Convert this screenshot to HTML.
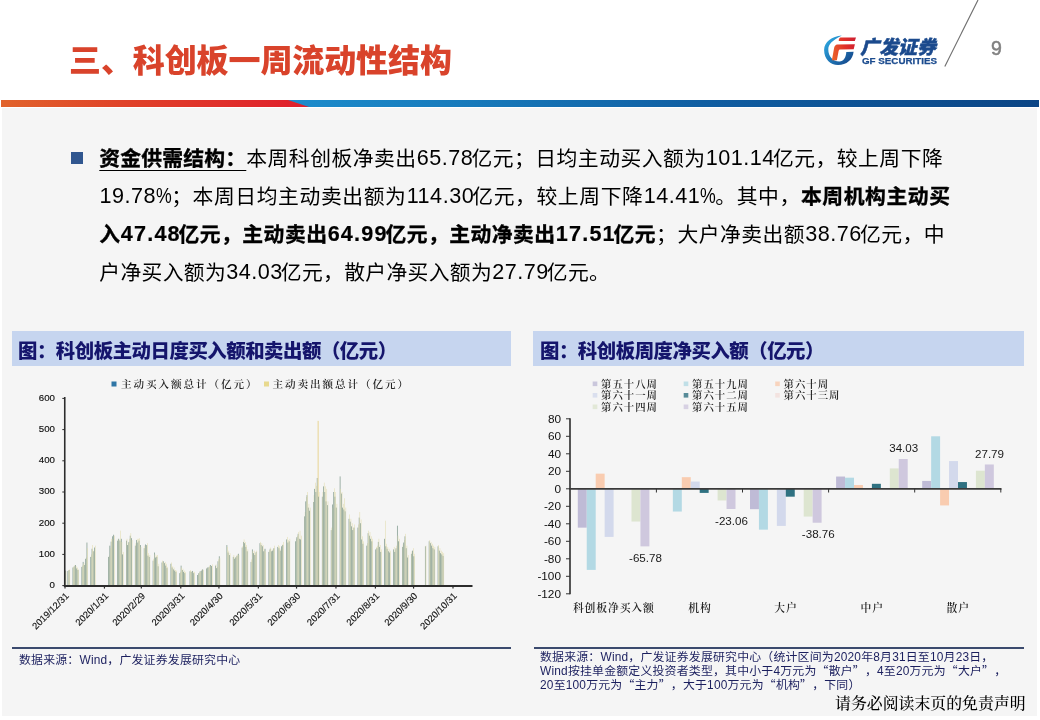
<!DOCTYPE html>
<html lang="zh-CN">
<head>
<meta charset="utf-8">
<title>三、科创板一周流动性结构</title>
<style>
html,body{margin:0;padding:0;}
body{width:1040px;height:720px;position:relative;overflow:hidden;background:#fff;
  font-family:"Liberation Sans","Noto Sans CJK SC",sans-serif;color:#111;}
.abs{position:absolute;}
#graybg{left:2px;top:108px;width:1035px;height:608px;background:#f5f5f5;}
#title{left:69px;top:37px;font-size:32px;line-height:48px;font-weight:900;color:#d9432b;white-space:nowrap;letter-spacing:-0.1px;}
#bar{left:0;top:100px;width:1039px;height:7px;}
#pageno{left:991px;top:36px;font-size:19.5px;line-height:24px;color:#808080;font-weight:normal;-webkit-text-stroke:0.5px #808080;}
.para{left:99.3px;font-size:20.8px;line-height:30px;white-space:nowrap;color:#000;letter-spacing:-0.8px;}
.para b{font-weight:bold;color:#000;-webkit-text-stroke:0.35px #000;}
.para .n{font-size:21.6px;padding:0 0.3px 0 0.2px;letter-spacing:0.5px;position:relative;top:-0.3px;margin-right:-2.2px;}
.para b .n{letter-spacing:1.2px;margin-right:-2.6px;-webkit-text-stroke:0.2px #000;}
.para .n.p{margin-right:-0.5px;}
.para .pc{display:inline-block;transform:scaleX(0.82);transform-origin:left center;margin-right:-4.4px;}
#bullet{left:71px;top:152px;width:12px;height:12px;background:#30568f;}
.ctitle{top:331px;height:35px;background:#c6d5ef;}
.ctitle span{position:absolute;top:6.8px;font-size:19.4px;line-height:27px;font-weight:900;color:#15156c;white-space:nowrap;letter-spacing:-0.46px;}
.srcline{height:2px;background:#3b4a6e;}
.src{font-size:11.9px;line-height:13.9px;height:13.9px;color:#1b1f5e;white-space:nowrap;text-spacing-trim:space-all;letter-spacing:0.2px;}
.src q{font-family:"Noto Sans CJK SC",sans-serif;quotes:none;line-height:1;}
.src q:before,.src q:after{content:none;}
#disc{left:835px;top:693px;font-family:"Liberation Serif","Noto Serif CJK SC",serif;font-size:15.9px;line-height:22px;color:#000;font-weight:500;white-space:nowrap;}
svg text{font-family:"Liberation Sans","Noto Sans CJK SC",sans-serif;}
svg .ax{font-size:9.45px;fill:#111;stroke:#111;stroke-width:0.15px;}
svg .ax2{font-size:11.8px;fill:#111;}
svg .dl{font-size:11.6px;fill:#1a1a1a;}
svg .kai{font-family:"Liberation Serif","Noto Serif CJK SC",serif;fill:#222;font-weight:600;}
svg .lg1{font-size:10.6px;letter-spacing:1.9px;}
svg .lg2{font-size:10.4px;letter-spacing:1.0px;}
svg .cat{font-size:10.8px;letter-spacing:0.9px;}
</style>
</head>
<body>
<div id="graybg" class="abs"></div>

<!-- header -->
<div id="title" class="abs">三、科创板一周流动性结构</div>
<svg id="bar" class="abs" width="1039" height="7" viewBox="0 0 1039 7">
  <defs>
    <linearGradient id="gr" x1="0" x2="1" y1="0" y2="0">
      <stop offset="0" stop-color="#e1632b"/><stop offset="0.4" stop-color="#e04229"/><stop offset="1" stop-color="#e01f2c"/>
    </linearGradient>
    <linearGradient id="gb" x1="0" x2="1" y1="0" y2="0">
      <stop offset="0" stop-color="#1c8ccc"/><stop offset="0.25" stop-color="#1779ba"/><stop offset="0.55" stop-color="#105ea2"/><stop offset="1" stop-color="#0b4585"/>
    </linearGradient>
  </defs>
  <rect x="288" y="0" width="751" height="7" fill="url(#gb)"/>
  <polygon points="1,0 288,0 309,7 1,7" fill="url(#gr)"/>
</svg>

<!-- logo -->
<svg class="abs" style="left:815px;top:0;" width="225" height="80" viewBox="815 0 225 80">
  <defs>
    <linearGradient id="lgb" gradientUnits="userSpaceOnUse" x1="826" x2="850" y1="40" y2="62">
      <stop offset="0" stop-color="#2ea6de"/><stop offset="0.5" stop-color="#1f78b8"/><stop offset="1" stop-color="#164b8e"/>
    </linearGradient>
    <linearGradient id="lgr" gradientUnits="userSpaceOnUse" x1="832" x2="856" y1="50" y2="44">
      <stop offset="0" stop-color="#ea5f2a"/><stop offset="0.55" stop-color="#e0302a"/><stop offset="1" stop-color="#cf1f30"/>
    </linearGradient>
  </defs>
  <!-- G crescent -->
  <path d="M841.9 35.6 C832 36.5 824.1 42 824.1 50 C824.1 59 830.5 65 838 65 C846.5 65 853 59.5 853.6 51.7 L846.3 51.9 C846 57.5 843.5 61.3 839.5 61.5 C833 61.7 828.3 56.5 828.3 49.5 C828.3 44.2 832.3 40.6 841.9 35.6 Z" fill="url(#lgb)"/>
  <!-- F -->
  <path d="M840.4 37.6 L856 37.6 L854.8 41.1 L838.8 41.1 C838.5 39.5 839.2 38.2 840.4 37.6 Z" fill="url(#lgr)"/>
  <path d="M837.3 44.6 L854.9 44.3 L853.7 49.2 L840.2 49.4 C839.2 49.4 838.8 50 838.6 51 L836.9 60.2 L831.9 60.2 L834 48.4 C834.4 46.2 835.5 44.8 837.3 44.6 Z" fill="url(#lgr)"/>
  <text x="860.3" y="54" font-size="18.9" font-weight="900" font-style="italic" fill="#1b4a8d" stroke="#1b4a8d" stroke-width="0.45" style="font-family:'Liberation Sans','Noto Sans CJK SC',sans-serif;">广发证券</text>
  <text x="862" y="64.4" font-size="8.8" font-weight="bold" fill="#1c4c8f" stroke="#1c4c8f" stroke-width="0.25" textLength="75" lengthAdjust="spacingAndGlyphs">GF SECURITIES</text>
  <line x1="978" y1="0" x2="944.8" y2="66.5" stroke="#6c6c6c" stroke-width="1.1"/>
</svg>
<div id="pageno" class="abs">9</div>

<!-- paragraph -->
<div id="bullet" class="abs"></div>
<div class="para abs" id="p1" style="top:143.6px;letter-spacing:0.49px;"><b style="letter-spacing:0.2px;text-decoration:underline;text-underline-offset:3.5px;text-decoration-thickness:1.3px;">资金供需结构：</b>本周科创板净卖出<span class="n">65.78</span>亿元；日均主动买入额为<span class="n">101.14</span>亿元，较上周下降</div>
<div class="para abs" id="p2" style="top:181.6px;letter-spacing:0.60px;"><span class="n p">19.78<span class="pc">%</span></span>；本周日均主动卖出额为<span class="n">114.30</span>亿元，较上周下降<span class="n p">14.41<span class="pc">%</span></span>。其中，<b>本周机构主动买</b></div>
<div class="para abs" id="p3" style="top:219.6px;letter-spacing:0.48px;"><b>入<span class="n">47.48</span>亿元，主动卖出<span class="n">64.99</span>亿元，主动净卖出<span class="n">17.51</span>亿元</b>；大户净卖出额<span class="n">38.76</span>亿元，中</div>
<div class="para abs" id="p4" style="top:257.6px;letter-spacing:0.32px;">户净买入额为<span class="n">34.03</span>亿元，散户净买入额为<span class="n">27.79</span>亿元。</div>

<!-- chart titles -->
<div class="ctitle abs" style="left:12px;width:499px;"><span style="left:6px;">图：科创板主动日度买入额和卖出额（亿元）</span></div>
<div class="ctitle abs" style="left:533px;width:491px;"><span style="left:7px;">图：科创板周度净买入额（亿元）</span></div>

<!-- charts -->
<svg class="abs" style="left:0;top:366px;" width="1040" height="280" viewBox="0 366 1040 280">
  <!-- left legend -->
  <rect x="111.5" y="381.5" width="5" height="5" fill="#2f76a6"/>
  <text x="121" y="388" class="kai lg1">主动买入额总计（亿元）</text>
  <rect x="264" y="381.5" width="5" height="5" fill="#e8d98e"/>
  <text x="272.5" y="388" class="kai lg1">主动卖出额总计（亿元）</text>
  <!-- left bars -->
<rect x="64.95" y="570.62" width="0.74" height="14.98" fill="#7f998c"/>
<rect x="65.69" y="571.25" width="0.55" height="14.35" fill="#e2dcae"/>
<rect x="67.49" y="570.94" width="0.74" height="14.66" fill="#7f998c"/>
<rect x="68.23" y="570.31" width="0.55" height="15.29" fill="#e2dcae"/>
<rect x="68.77" y="570" width="0.74" height="15.6" fill="#7f998c"/>
<rect x="69.51" y="569.38" width="0.55" height="16.22" fill="#e2dcae"/>
<rect x="72.58" y="567.5" width="0.74" height="18.1" fill="#7f998c"/>
<rect x="73.32" y="566.88" width="0.55" height="18.72" fill="#e2dcae"/>
<rect x="73.85" y="566.26" width="0.74" height="19.34" fill="#7f998c"/>
<rect x="74.59" y="565.01" width="0.55" height="20.59" fill="#e2dcae"/>
<rect x="75.13" y="565.01" width="0.74" height="20.59" fill="#7f998c"/>
<rect x="75.87" y="566.26" width="0.55" height="19.34" fill="#e2dcae"/>
<rect x="76.4" y="568.44" width="0.74" height="17.16" fill="#7f998c"/>
<rect x="77.14" y="567.5" width="0.55" height="18.1" fill="#e2dcae"/>
<rect x="77.67" y="570" width="0.74" height="15.6" fill="#7f998c"/>
<rect x="78.41" y="569.38" width="0.55" height="16.22" fill="#e2dcae"/>
<rect x="81.49" y="566.88" width="0.74" height="18.72" fill="#7f998c"/>
<rect x="82.23" y="565.63" width="0.55" height="19.97" fill="#e2dcae"/>
<rect x="82.76" y="561.89" width="0.74" height="23.71" fill="#7f998c"/>
<rect x="83.5" y="563.76" width="0.55" height="21.84" fill="#e2dcae"/>
<rect x="84.03" y="565.01" width="0.74" height="20.59" fill="#7f998c"/>
<rect x="84.77" y="563.14" width="0.55" height="22.46" fill="#e2dcae"/>
<rect x="85.3" y="558.77" width="0.74" height="26.83" fill="#7f998c"/>
<rect x="86.04" y="557.52" width="0.55" height="28.08" fill="#e2dcae"/>
<rect x="86.58" y="542.54" width="0.74" height="43.06" fill="#7f998c"/>
<rect x="87.32" y="548.16" width="0.55" height="37.44" fill="#e2dcae"/>
<rect x="90.39" y="556.9" width="0.74" height="28.7" fill="#7f998c"/>
<rect x="91.13" y="554.4" width="0.55" height="31.2" fill="#e2dcae"/>
<rect x="91.66" y="548.78" width="0.74" height="36.82" fill="#7f998c"/>
<rect x="92.4" y="545.04" width="0.55" height="40.56" fill="#e2dcae"/>
<rect x="92.94" y="551.28" width="0.74" height="34.32" fill="#7f998c"/>
<rect x="93.68" y="550.66" width="0.55" height="34.94" fill="#e2dcae"/>
<rect x="94.21" y="547.54" width="0.74" height="38.06" fill="#7f998c"/>
<rect x="94.95" y="545.66" width="0.55" height="39.94" fill="#e2dcae"/>
<rect x="108.2" y="556.9" width="0.74" height="28.7" fill="#7f998c"/>
<rect x="108.94" y="555.65" width="0.55" height="29.95" fill="#e2dcae"/>
<rect x="109.47" y="545.66" width="0.74" height="39.94" fill="#7f998c"/>
<rect x="110.21" y="548.16" width="0.55" height="37.44" fill="#e2dcae"/>
<rect x="110.75" y="541.61" width="0.74" height="43.99" fill="#7f998c"/>
<rect x="111.49" y="538.8" width="0.55" height="46.8" fill="#e2dcae"/>
<rect x="112.02" y="536.3" width="0.74" height="49.3" fill="#7f998c"/>
<rect x="112.76" y="538.8" width="0.55" height="46.8" fill="#e2dcae"/>
<rect x="113.29" y="534.74" width="0.74" height="50.86" fill="#7f998c"/>
<rect x="114.03" y="535.68" width="0.55" height="49.92" fill="#e2dcae"/>
<rect x="117.11" y="540.67" width="0.74" height="44.93" fill="#7f998c"/>
<rect x="117.85" y="538.8" width="0.55" height="46.8" fill="#e2dcae"/>
<rect x="118.38" y="538.8" width="0.74" height="46.8" fill="#7f998c"/>
<rect x="119.12" y="540.05" width="0.55" height="45.55" fill="#e2dcae"/>
<rect x="119.65" y="540.67" width="0.74" height="44.93" fill="#7f998c"/>
<rect x="120.39" y="530.69" width="0.55" height="54.91" fill="#e2dcae"/>
<rect x="120.92" y="538.8" width="0.74" height="46.8" fill="#7f998c"/>
<rect x="121.66" y="541.92" width="0.55" height="43.68" fill="#e2dcae"/>
<rect x="122.2" y="554.4" width="0.74" height="31.2" fill="#7f998c"/>
<rect x="122.94" y="551.9" width="0.55" height="33.7" fill="#e2dcae"/>
<rect x="126.01" y="540.67" width="0.74" height="44.93" fill="#7f998c"/>
<rect x="126.75" y="538.8" width="0.55" height="46.8" fill="#e2dcae"/>
<rect x="127.28" y="545.04" width="0.74" height="40.56" fill="#7f998c"/>
<rect x="128.02" y="543.17" width="0.55" height="42.43" fill="#e2dcae"/>
<rect x="128.56" y="541.92" width="0.74" height="43.68" fill="#7f998c"/>
<rect x="129.3" y="538.8" width="0.55" height="46.8" fill="#e2dcae"/>
<rect x="129.83" y="535.68" width="0.74" height="49.92" fill="#7f998c"/>
<rect x="130.57" y="533.18" width="0.55" height="52.42" fill="#e2dcae"/>
<rect x="131.1" y="538.18" width="0.74" height="47.42" fill="#7f998c"/>
<rect x="131.84" y="540.05" width="0.55" height="45.55" fill="#e2dcae"/>
<rect x="134.92" y="545.66" width="0.74" height="39.94" fill="#7f998c"/>
<rect x="135.66" y="543.17" width="0.55" height="42.43" fill="#e2dcae"/>
<rect x="136.19" y="540.05" width="0.74" height="45.55" fill="#7f998c"/>
<rect x="136.93" y="538.8" width="0.55" height="46.8" fill="#e2dcae"/>
<rect x="137.46" y="542.54" width="0.74" height="43.06" fill="#7f998c"/>
<rect x="138.2" y="538.8" width="0.55" height="46.8" fill="#e2dcae"/>
<rect x="138.73" y="540.67" width="0.74" height="44.93" fill="#7f998c"/>
<rect x="139.47" y="538.18" width="0.55" height="47.42" fill="#e2dcae"/>
<rect x="140.01" y="545.04" width="0.74" height="40.56" fill="#7f998c"/>
<rect x="140.75" y="546.91" width="0.55" height="38.69" fill="#e2dcae"/>
<rect x="143.82" y="548.16" width="0.74" height="37.44" fill="#7f998c"/>
<rect x="144.56" y="545.66" width="0.55" height="39.94" fill="#e2dcae"/>
<rect x="145.09" y="544.42" width="0.74" height="41.18" fill="#7f998c"/>
<rect x="145.83" y="546.29" width="0.55" height="39.31" fill="#e2dcae"/>
<rect x="146.37" y="545.04" width="0.74" height="40.56" fill="#7f998c"/>
<rect x="147.11" y="543.17" width="0.55" height="42.43" fill="#e2dcae"/>
<rect x="147.64" y="555.65" width="0.74" height="29.95" fill="#7f998c"/>
<rect x="148.38" y="553.15" width="0.55" height="32.45" fill="#e2dcae"/>
<rect x="148.91" y="556.9" width="0.74" height="28.7" fill="#7f998c"/>
<rect x="149.65" y="555.02" width="0.55" height="30.58" fill="#e2dcae"/>
<rect x="152.73" y="560.64" width="0.74" height="24.96" fill="#7f998c"/>
<rect x="153.47" y="558.77" width="0.55" height="26.83" fill="#e2dcae"/>
<rect x="154" y="552.53" width="0.74" height="33.07" fill="#7f998c"/>
<rect x="154.74" y="554.4" width="0.55" height="31.2" fill="#e2dcae"/>
<rect x="155.27" y="557.52" width="0.74" height="28.08" fill="#7f998c"/>
<rect x="156.01" y="555.65" width="0.55" height="29.95" fill="#e2dcae"/>
<rect x="156.54" y="556.9" width="0.74" height="28.7" fill="#7f998c"/>
<rect x="157.28" y="555.02" width="0.55" height="30.58" fill="#e2dcae"/>
<rect x="157.82" y="566.26" width="0.74" height="19.34" fill="#7f998c"/>
<rect x="158.56" y="563.76" width="0.55" height="21.84" fill="#e2dcae"/>
<rect x="161.63" y="562.51" width="0.74" height="23.09" fill="#7f998c"/>
<rect x="162.37" y="560.64" width="0.55" height="24.96" fill="#e2dcae"/>
<rect x="162.9" y="561.26" width="0.74" height="24.34" fill="#7f998c"/>
<rect x="163.64" y="562.51" width="0.55" height="23.09" fill="#e2dcae"/>
<rect x="164.18" y="563.14" width="0.74" height="22.46" fill="#7f998c"/>
<rect x="164.92" y="561.89" width="0.55" height="23.71" fill="#e2dcae"/>
<rect x="165.45" y="565.63" width="0.74" height="19.97" fill="#7f998c"/>
<rect x="166.19" y="563.76" width="0.55" height="21.84" fill="#e2dcae"/>
<rect x="166.72" y="568.13" width="0.74" height="17.47" fill="#7f998c"/>
<rect x="167.46" y="566.88" width="0.55" height="18.72" fill="#e2dcae"/>
<rect x="170.54" y="563.76" width="0.74" height="21.84" fill="#7f998c"/>
<rect x="171.28" y="562.51" width="0.55" height="23.09" fill="#e2dcae"/>
<rect x="171.81" y="567.5" width="0.74" height="18.1" fill="#7f998c"/>
<rect x="172.55" y="566.26" width="0.55" height="19.34" fill="#e2dcae"/>
<rect x="173.08" y="569.38" width="0.74" height="16.22" fill="#7f998c"/>
<rect x="173.82" y="567.5" width="0.55" height="18.1" fill="#e2dcae"/>
<rect x="174.35" y="570.62" width="0.74" height="14.98" fill="#7f998c"/>
<rect x="175.09" y="570" width="0.55" height="15.6" fill="#e2dcae"/>
<rect x="175.63" y="571.87" width="0.74" height="13.73" fill="#7f998c"/>
<rect x="176.37" y="570.62" width="0.55" height="14.98" fill="#e2dcae"/>
<rect x="179.44" y="573.12" width="0.74" height="12.48" fill="#7f998c"/>
<rect x="180.18" y="571.87" width="0.55" height="13.73" fill="#e2dcae"/>
<rect x="180.71" y="565.63" width="0.74" height="19.97" fill="#7f998c"/>
<rect x="181.45" y="567.5" width="0.55" height="18.1" fill="#e2dcae"/>
<rect x="181.99" y="570" width="0.74" height="15.6" fill="#7f998c"/>
<rect x="182.73" y="568.75" width="0.55" height="16.85" fill="#e2dcae"/>
<rect x="183.26" y="571.87" width="0.74" height="13.73" fill="#7f998c"/>
<rect x="184" y="570.62" width="0.55" height="14.98" fill="#e2dcae"/>
<rect x="184.53" y="573.12" width="0.74" height="12.48" fill="#7f998c"/>
<rect x="185.27" y="571.87" width="0.55" height="13.73" fill="#e2dcae"/>
<rect x="189.62" y="571.25" width="0.74" height="14.35" fill="#7f998c"/>
<rect x="190.36" y="570" width="0.55" height="15.6" fill="#e2dcae"/>
<rect x="190.89" y="571.87" width="0.74" height="13.73" fill="#7f998c"/>
<rect x="191.63" y="571.25" width="0.55" height="14.35" fill="#e2dcae"/>
<rect x="192.16" y="570.94" width="0.74" height="14.66" fill="#7f998c"/>
<rect x="192.9" y="571.87" width="0.55" height="13.73" fill="#e2dcae"/>
<rect x="193.44" y="573.12" width="0.74" height="12.48" fill="#7f998c"/>
<rect x="194.18" y="571.87" width="0.55" height="13.73" fill="#e2dcae"/>
<rect x="197.25" y="574.99" width="0.74" height="10.61" fill="#7f998c"/>
<rect x="197.99" y="573.74" width="0.55" height="11.86" fill="#e2dcae"/>
<rect x="198.52" y="573.12" width="0.74" height="12.48" fill="#7f998c"/>
<rect x="199.26" y="571.87" width="0.55" height="13.73" fill="#e2dcae"/>
<rect x="199.8" y="571.25" width="0.74" height="14.35" fill="#7f998c"/>
<rect x="200.54" y="571.87" width="0.55" height="13.73" fill="#e2dcae"/>
<rect x="201.07" y="570.62" width="0.74" height="14.98" fill="#7f998c"/>
<rect x="201.81" y="569.38" width="0.55" height="16.22" fill="#e2dcae"/>
<rect x="202.34" y="569.38" width="0.74" height="16.22" fill="#7f998c"/>
<rect x="203.08" y="570" width="0.55" height="15.6" fill="#e2dcae"/>
<rect x="206.16" y="568.44" width="0.74" height="17.16" fill="#7f998c"/>
<rect x="206.9" y="567.5" width="0.55" height="18.1" fill="#e2dcae"/>
<rect x="207.43" y="567.5" width="0.74" height="18.1" fill="#7f998c"/>
<rect x="208.17" y="568.13" width="0.55" height="17.47" fill="#e2dcae"/>
<rect x="208.7" y="566.88" width="0.74" height="18.72" fill="#7f998c"/>
<rect x="209.44" y="565.63" width="0.55" height="19.97" fill="#e2dcae"/>
<rect x="209.97" y="565.01" width="0.74" height="20.59" fill="#7f998c"/>
<rect x="210.71" y="566.26" width="0.55" height="19.34" fill="#e2dcae"/>
<rect x="211.25" y="565.94" width="0.74" height="19.66" fill="#7f998c"/>
<rect x="211.99" y="564.38" width="0.55" height="21.22" fill="#e2dcae"/>
<rect x="215.06" y="565.63" width="0.74" height="19.97" fill="#7f998c"/>
<rect x="215.8" y="564.38" width="0.55" height="21.22" fill="#e2dcae"/>
<rect x="216.33" y="568.13" width="0.74" height="17.47" fill="#7f998c"/>
<rect x="217.07" y="566.88" width="0.55" height="18.72" fill="#e2dcae"/>
<rect x="217.61" y="561.26" width="0.74" height="24.34" fill="#7f998c"/>
<rect x="218.35" y="559.39" width="0.55" height="26.21" fill="#e2dcae"/>
<rect x="218.88" y="556.27" width="0.74" height="29.33" fill="#7f998c"/>
<rect x="219.62" y="558.14" width="0.55" height="27.46" fill="#e2dcae"/>
<rect x="226.51" y="545.04" width="0.74" height="40.56" fill="#7f998c"/>
<rect x="227.25" y="546.91" width="0.55" height="38.69" fill="#e2dcae"/>
<rect x="227.78" y="552.53" width="0.74" height="33.07" fill="#7f998c"/>
<rect x="228.52" y="550.66" width="0.55" height="34.94" fill="#e2dcae"/>
<rect x="229.05" y="555.02" width="0.74" height="30.58" fill="#7f998c"/>
<rect x="229.79" y="553.15" width="0.55" height="32.45" fill="#e2dcae"/>
<rect x="232.87" y="556.9" width="0.74" height="28.7" fill="#7f998c"/>
<rect x="233.61" y="555.02" width="0.55" height="30.58" fill="#e2dcae"/>
<rect x="234.14" y="558.77" width="0.74" height="26.83" fill="#7f998c"/>
<rect x="234.88" y="556.9" width="0.55" height="28.7" fill="#e2dcae"/>
<rect x="235.42" y="557.52" width="0.74" height="28.08" fill="#7f998c"/>
<rect x="236.16" y="556.27" width="0.55" height="29.33" fill="#e2dcae"/>
<rect x="236.69" y="555.65" width="0.74" height="29.95" fill="#7f998c"/>
<rect x="237.43" y="554.4" width="0.55" height="31.2" fill="#e2dcae"/>
<rect x="237.96" y="553.78" width="0.74" height="31.82" fill="#7f998c"/>
<rect x="238.7" y="555.02" width="0.55" height="30.58" fill="#e2dcae"/>
<rect x="241.78" y="547.54" width="0.74" height="38.06" fill="#7f998c"/>
<rect x="242.52" y="546.29" width="0.55" height="39.31" fill="#e2dcae"/>
<rect x="243.05" y="541.92" width="0.74" height="43.68" fill="#7f998c"/>
<rect x="243.79" y="539.42" width="0.55" height="46.18" fill="#e2dcae"/>
<rect x="244.32" y="543.17" width="0.74" height="42.43" fill="#7f998c"/>
<rect x="245.06" y="541.92" width="0.55" height="43.68" fill="#e2dcae"/>
<rect x="245.59" y="546.91" width="0.74" height="38.69" fill="#7f998c"/>
<rect x="246.33" y="545.04" width="0.55" height="40.56" fill="#e2dcae"/>
<rect x="246.86" y="551.28" width="0.74" height="34.32" fill="#7f998c"/>
<rect x="247.6" y="549.41" width="0.55" height="36.19" fill="#e2dcae"/>
<rect x="250.68" y="561.89" width="0.74" height="23.71" fill="#7f998c"/>
<rect x="251.42" y="559.39" width="0.55" height="26.21" fill="#e2dcae"/>
<rect x="251.95" y="549.41" width="0.74" height="36.19" fill="#7f998c"/>
<rect x="252.69" y="551.28" width="0.55" height="34.32" fill="#e2dcae"/>
<rect x="253.23" y="553.15" width="0.74" height="32.45" fill="#7f998c"/>
<rect x="253.97" y="550.66" width="0.55" height="34.94" fill="#e2dcae"/>
<rect x="254.5" y="555.02" width="0.74" height="30.58" fill="#7f998c"/>
<rect x="255.24" y="553.15" width="0.55" height="32.45" fill="#e2dcae"/>
<rect x="255.77" y="551.9" width="0.74" height="33.7" fill="#7f998c"/>
<rect x="256.51" y="550.66" width="0.55" height="34.94" fill="#e2dcae"/>
<rect x="259.59" y="543.17" width="0.74" height="42.43" fill="#7f998c"/>
<rect x="260.33" y="541.92" width="0.55" height="43.68" fill="#e2dcae"/>
<rect x="260.86" y="545.04" width="0.74" height="40.56" fill="#7f998c"/>
<rect x="261.6" y="543.17" width="0.55" height="42.43" fill="#e2dcae"/>
<rect x="262.13" y="546.29" width="0.74" height="39.31" fill="#7f998c"/>
<rect x="262.87" y="545.04" width="0.55" height="40.56" fill="#e2dcae"/>
<rect x="263.4" y="551.28" width="0.74" height="34.32" fill="#7f998c"/>
<rect x="264.14" y="549.41" width="0.55" height="36.19" fill="#e2dcae"/>
<rect x="264.67" y="548.78" width="0.74" height="36.82" fill="#7f998c"/>
<rect x="265.41" y="551.28" width="0.55" height="34.32" fill="#e2dcae"/>
<rect x="268.49" y="551.9" width="0.74" height="33.7" fill="#7f998c"/>
<rect x="269.23" y="550.03" width="0.55" height="35.57" fill="#e2dcae"/>
<rect x="269.76" y="548.78" width="0.74" height="36.82" fill="#7f998c"/>
<rect x="270.5" y="547.54" width="0.55" height="38.06" fill="#e2dcae"/>
<rect x="271.04" y="551.28" width="0.74" height="34.32" fill="#7f998c"/>
<rect x="271.78" y="549.41" width="0.55" height="36.19" fill="#e2dcae"/>
<rect x="272.31" y="550.66" width="0.74" height="34.94" fill="#7f998c"/>
<rect x="273.05" y="548.78" width="0.55" height="36.82" fill="#e2dcae"/>
<rect x="273.58" y="548.16" width="0.74" height="37.44" fill="#7f998c"/>
<rect x="274.32" y="545.66" width="0.55" height="39.94" fill="#e2dcae"/>
<rect x="277.4" y="546.91" width="0.74" height="38.69" fill="#7f998c"/>
<rect x="278.14" y="545.04" width="0.55" height="40.56" fill="#e2dcae"/>
<rect x="278.67" y="548.16" width="0.74" height="37.44" fill="#7f998c"/>
<rect x="279.41" y="546.29" width="0.55" height="39.31" fill="#e2dcae"/>
<rect x="279.94" y="550.66" width="0.74" height="34.94" fill="#7f998c"/>
<rect x="280.68" y="548.78" width="0.55" height="36.82" fill="#e2dcae"/>
<rect x="281.21" y="546.29" width="0.74" height="39.31" fill="#7f998c"/>
<rect x="281.95" y="544.42" width="0.55" height="41.18" fill="#e2dcae"/>
<rect x="282.48" y="545.04" width="0.74" height="40.56" fill="#7f998c"/>
<rect x="283.22" y="541.92" width="0.55" height="43.68" fill="#e2dcae"/>
<rect x="286.3" y="539.42" width="0.74" height="46.18" fill="#7f998c"/>
<rect x="287.04" y="536.93" width="0.55" height="48.67" fill="#e2dcae"/>
<rect x="287.57" y="542.54" width="0.74" height="43.06" fill="#7f998c"/>
<rect x="288.31" y="540.05" width="0.55" height="45.55" fill="#e2dcae"/>
<rect x="288.85" y="541.3" width="0.74" height="44.3" fill="#7f998c"/>
<rect x="289.59" y="538.8" width="0.55" height="46.8" fill="#e2dcae"/>
<rect x="295.21" y="541.3" width="0.74" height="44.3" fill="#7f998c"/>
<rect x="295.95" y="538.8" width="0.55" height="46.8" fill="#e2dcae"/>
<rect x="296.48" y="537.24" width="0.74" height="48.36" fill="#7f998c"/>
<rect x="297.22" y="535.68" width="0.55" height="49.92" fill="#e2dcae"/>
<rect x="297.75" y="533.81" width="0.74" height="51.79" fill="#7f998c"/>
<rect x="298.49" y="531.94" width="0.55" height="53.66" fill="#e2dcae"/>
<rect x="299.02" y="538.8" width="0.74" height="46.8" fill="#7f998c"/>
<rect x="299.76" y="530.69" width="0.55" height="54.91" fill="#e2dcae"/>
<rect x="300.29" y="539.42" width="0.74" height="46.18" fill="#7f998c"/>
<rect x="301.03" y="535.68" width="0.55" height="49.92" fill="#e2dcae"/>
<rect x="304.11" y="516.34" width="0.74" height="69.26" fill="#7f998c"/>
<rect x="304.85" y="511.97" width="0.55" height="73.63" fill="#e2dcae"/>
<rect x="305.38" y="501.36" width="0.74" height="84.24" fill="#7f998c"/>
<rect x="306.12" y="496.99" width="0.55" height="88.61" fill="#e2dcae"/>
<rect x="306.65" y="495.12" width="0.74" height="90.48" fill="#7f998c"/>
<rect x="307.39" y="492" width="0.55" height="93.6" fill="#e2dcae"/>
<rect x="307.93" y="507.6" width="0.74" height="78" fill="#7f998c"/>
<rect x="308.67" y="503.86" width="0.55" height="81.74" fill="#e2dcae"/>
<rect x="309.2" y="510.72" width="0.74" height="74.88" fill="#7f998c"/>
<rect x="309.94" y="507.6" width="0.55" height="78" fill="#e2dcae"/>
<rect x="313.02" y="501.98" width="0.74" height="83.62" fill="#7f998c"/>
<rect x="313.76" y="495.12" width="0.55" height="90.48" fill="#e2dcae"/>
<rect x="314.29" y="488.88" width="0.74" height="96.72" fill="#7f998c"/>
<rect x="315.03" y="482.64" width="0.55" height="102.96" fill="#e2dcae"/>
<rect x="315.56" y="492" width="0.74" height="93.6" fill="#7f998c"/>
<rect x="316.3" y="485.76" width="0.55" height="99.84" fill="#e2dcae"/>
<rect x="316.83" y="477.96" width="0.74" height="107.64" fill="#7f998c"/>
<rect x="317.57" y="420.86" width="1.15" height="164.74" fill="#ead9a0"/>
<rect x="318.1" y="496.68" width="0.74" height="88.92" fill="#7f998c"/>
<rect x="318.84" y="492" width="0.55" height="93.6" fill="#e2dcae"/>
<rect x="321.92" y="496.68" width="0.74" height="88.92" fill="#7f998c"/>
<rect x="322.66" y="492" width="0.55" height="93.6" fill="#e2dcae"/>
<rect x="323.19" y="486.38" width="0.74" height="99.22" fill="#7f998c"/>
<rect x="323.93" y="482.64" width="0.55" height="102.96" fill="#e2dcae"/>
<rect x="324.46" y="492" width="0.74" height="93.6" fill="#7f998c"/>
<rect x="325.2" y="486.38" width="0.55" height="99.22" fill="#e2dcae"/>
<rect x="325.74" y="501.36" width="0.74" height="84.24" fill="#7f998c"/>
<rect x="326.48" y="488.88" width="0.55" height="96.72" fill="#e2dcae"/>
<rect x="327.01" y="505.1" width="0.74" height="80.5" fill="#7f998c"/>
<rect x="327.75" y="501.36" width="0.55" height="84.24" fill="#e2dcae"/>
<rect x="330.83" y="530.06" width="0.74" height="55.54" fill="#7f998c"/>
<rect x="331.57" y="527.57" width="0.55" height="58.03" fill="#e2dcae"/>
<rect x="332.1" y="504.48" width="0.74" height="81.12" fill="#7f998c"/>
<rect x="332.84" y="507.6" width="0.55" height="78" fill="#e2dcae"/>
<rect x="333.37" y="492" width="0.74" height="93.6" fill="#7f998c"/>
<rect x="334.11" y="488.26" width="0.55" height="97.34" fill="#e2dcae"/>
<rect x="334.64" y="496.68" width="0.74" height="88.92" fill="#7f998c"/>
<rect x="335.38" y="492" width="0.55" height="93.6" fill="#e2dcae"/>
<rect x="335.91" y="507.6" width="0.74" height="78" fill="#7f998c"/>
<rect x="336.65" y="503.86" width="0.55" height="81.74" fill="#e2dcae"/>
<rect x="339.73" y="476.4" width="0.74" height="109.2" fill="#7f998c"/>
<rect x="340.47" y="488.88" width="0.55" height="96.72" fill="#e2dcae"/>
<rect x="341" y="493.56" width="0.74" height="92.04" fill="#7f998c"/>
<rect x="341.74" y="492" width="0.55" height="93.6" fill="#e2dcae"/>
<rect x="342.27" y="507.6" width="0.74" height="78" fill="#7f998c"/>
<rect x="343.01" y="503.86" width="0.55" height="81.74" fill="#e2dcae"/>
<rect x="343.55" y="509.47" width="0.74" height="76.13" fill="#7f998c"/>
<rect x="344.29" y="498.24" width="0.55" height="87.36" fill="#e2dcae"/>
<rect x="344.82" y="511.34" width="0.74" height="74.26" fill="#7f998c"/>
<rect x="345.56" y="507.6" width="0.55" height="78" fill="#e2dcae"/>
<rect x="348.64" y="518.83" width="0.74" height="66.77" fill="#7f998c"/>
<rect x="349.38" y="514.46" width="0.55" height="71.14" fill="#e2dcae"/>
<rect x="349.91" y="521.64" width="0.74" height="63.96" fill="#7f998c"/>
<rect x="350.65" y="518.83" width="0.55" height="66.77" fill="#e2dcae"/>
<rect x="351.18" y="526.32" width="0.74" height="59.28" fill="#7f998c"/>
<rect x="351.92" y="523.2" width="0.55" height="62.4" fill="#e2dcae"/>
<rect x="352.45" y="530.06" width="0.74" height="55.54" fill="#7f998c"/>
<rect x="353.19" y="527.57" width="0.55" height="58.03" fill="#e2dcae"/>
<rect x="353.72" y="527.57" width="0.74" height="58.03" fill="#7f998c"/>
<rect x="354.46" y="524.45" width="0.55" height="61.15" fill="#e2dcae"/>
<rect x="357.54" y="527.57" width="0.74" height="58.03" fill="#7f998c"/>
<rect x="358.28" y="524.45" width="0.55" height="61.15" fill="#e2dcae"/>
<rect x="358.81" y="517.58" width="0.74" height="68.02" fill="#7f998c"/>
<rect x="359.55" y="511.97" width="0.55" height="73.63" fill="#e2dcae"/>
<rect x="360.08" y="523.2" width="0.74" height="62.4" fill="#7f998c"/>
<rect x="360.82" y="519.46" width="0.55" height="66.14" fill="#e2dcae"/>
<rect x="361.36" y="539.42" width="0.74" height="46.18" fill="#7f998c"/>
<rect x="362.1" y="536.3" width="0.55" height="49.3" fill="#e2dcae"/>
<rect x="362.63" y="543.79" width="0.74" height="41.81" fill="#7f998c"/>
<rect x="363.37" y="541.3" width="0.55" height="44.3" fill="#e2dcae"/>
<rect x="366.45" y="545.66" width="0.74" height="39.94" fill="#7f998c"/>
<rect x="367.19" y="543.17" width="0.55" height="42.43" fill="#e2dcae"/>
<rect x="367.72" y="533.18" width="0.74" height="52.42" fill="#7f998c"/>
<rect x="368.46" y="530.69" width="0.55" height="54.91" fill="#e2dcae"/>
<rect x="368.99" y="535.68" width="0.74" height="49.92" fill="#7f998c"/>
<rect x="369.73" y="531.94" width="0.55" height="53.66" fill="#e2dcae"/>
<rect x="370.26" y="538.8" width="0.74" height="46.8" fill="#7f998c"/>
<rect x="371" y="536.3" width="0.55" height="49.3" fill="#e2dcae"/>
<rect x="371.53" y="541.3" width="0.74" height="44.3" fill="#7f998c"/>
<rect x="372.27" y="538.8" width="0.55" height="46.8" fill="#e2dcae"/>
<rect x="375.35" y="549.41" width="0.74" height="36.19" fill="#7f998c"/>
<rect x="376.09" y="546.91" width="0.55" height="38.69" fill="#e2dcae"/>
<rect x="376.62" y="548.16" width="0.74" height="37.44" fill="#7f998c"/>
<rect x="377.36" y="545.66" width="0.55" height="39.94" fill="#e2dcae"/>
<rect x="377.89" y="541.92" width="0.74" height="43.68" fill="#7f998c"/>
<rect x="378.63" y="538.8" width="0.55" height="46.8" fill="#e2dcae"/>
<rect x="379.17" y="546.91" width="0.74" height="38.69" fill="#7f998c"/>
<rect x="379.91" y="545.04" width="0.55" height="40.56" fill="#e2dcae"/>
<rect x="380.44" y="551.9" width="0.74" height="33.7" fill="#7f998c"/>
<rect x="381.18" y="549.41" width="0.55" height="36.19" fill="#e2dcae"/>
<rect x="384.25" y="538.8" width="0.74" height="46.8" fill="#7f998c"/>
<rect x="384.99" y="520.7" width="0.55" height="64.9" fill="#e2dcae"/>
<rect x="385.53" y="546.29" width="0.74" height="39.31" fill="#7f998c"/>
<rect x="386.27" y="543.79" width="0.55" height="41.81" fill="#e2dcae"/>
<rect x="386.8" y="548.78" width="0.74" height="36.82" fill="#7f998c"/>
<rect x="387.54" y="546.91" width="0.55" height="38.69" fill="#e2dcae"/>
<rect x="388.07" y="551.28" width="0.74" height="34.32" fill="#7f998c"/>
<rect x="388.81" y="548.78" width="0.55" height="36.82" fill="#e2dcae"/>
<rect x="389.34" y="552.53" width="0.74" height="33.07" fill="#7f998c"/>
<rect x="390.08" y="550.66" width="0.55" height="34.94" fill="#e2dcae"/>
<rect x="393.16" y="549.41" width="0.74" height="36.19" fill="#7f998c"/>
<rect x="393.9" y="546.91" width="0.55" height="38.69" fill="#e2dcae"/>
<rect x="394.43" y="551.9" width="0.74" height="33.7" fill="#7f998c"/>
<rect x="395.17" y="549.41" width="0.55" height="36.19" fill="#e2dcae"/>
<rect x="395.7" y="548.16" width="0.74" height="37.44" fill="#7f998c"/>
<rect x="396.44" y="545.66" width="0.55" height="39.94" fill="#e2dcae"/>
<rect x="396.98" y="525.7" width="0.74" height="59.9" fill="#7f998c"/>
<rect x="397.72" y="535.68" width="0.55" height="49.92" fill="#e2dcae"/>
<rect x="398.25" y="541.3" width="0.74" height="44.3" fill="#7f998c"/>
<rect x="398.99" y="538.8" width="0.55" height="46.8" fill="#e2dcae"/>
<rect x="402.06" y="546.91" width="0.74" height="38.69" fill="#7f998c"/>
<rect x="402.8" y="544.42" width="0.55" height="41.18" fill="#e2dcae"/>
<rect x="403.34" y="542.54" width="0.74" height="43.06" fill="#7f998c"/>
<rect x="404.08" y="540.05" width="0.55" height="45.55" fill="#e2dcae"/>
<rect x="404.61" y="536.3" width="0.74" height="49.3" fill="#7f998c"/>
<rect x="405.35" y="533.81" width="0.55" height="51.79" fill="#e2dcae"/>
<rect x="405.88" y="548.16" width="0.74" height="37.44" fill="#7f998c"/>
<rect x="406.62" y="545.66" width="0.55" height="39.94" fill="#e2dcae"/>
<rect x="407.15" y="557.52" width="0.74" height="28.08" fill="#7f998c"/>
<rect x="407.89" y="555.02" width="0.55" height="30.58" fill="#e2dcae"/>
<rect x="410.97" y="553.78" width="0.74" height="31.82" fill="#7f998c"/>
<rect x="411.71" y="551.28" width="0.55" height="34.32" fill="#e2dcae"/>
<rect x="412.24" y="550.66" width="0.74" height="34.94" fill="#7f998c"/>
<rect x="412.98" y="548.16" width="0.55" height="37.44" fill="#e2dcae"/>
<rect x="413.51" y="556.27" width="0.74" height="29.33" fill="#7f998c"/>
<rect x="414.25" y="553.78" width="0.55" height="31.82" fill="#e2dcae"/>
<rect x="424.96" y="546.29" width="0.74" height="39.31" fill="#7f998c"/>
<rect x="425.7" y="545.66" width="0.55" height="39.94" fill="#e2dcae"/>
<rect x="428.78" y="541.3" width="0.74" height="44.3" fill="#7f998c"/>
<rect x="429.52" y="540.05" width="0.55" height="45.55" fill="#e2dcae"/>
<rect x="430.05" y="543.17" width="0.74" height="42.43" fill="#7f998c"/>
<rect x="430.79" y="541.92" width="0.55" height="43.68" fill="#e2dcae"/>
<rect x="431.32" y="545.66" width="0.74" height="39.94" fill="#7f998c"/>
<rect x="432.06" y="543.79" width="0.55" height="41.81" fill="#e2dcae"/>
<rect x="432.6" y="548.16" width="0.74" height="37.44" fill="#7f998c"/>
<rect x="433.34" y="545.66" width="0.55" height="39.94" fill="#e2dcae"/>
<rect x="433.87" y="549.41" width="0.74" height="36.19" fill="#7f998c"/>
<rect x="434.61" y="546.91" width="0.55" height="38.69" fill="#e2dcae"/>
<rect x="437.68" y="546.29" width="0.74" height="39.31" fill="#7f998c"/>
<rect x="438.42" y="545.04" width="0.55" height="40.56" fill="#e2dcae"/>
<rect x="438.96" y="550.66" width="0.74" height="34.94" fill="#7f998c"/>
<rect x="439.7" y="548.16" width="0.55" height="37.44" fill="#e2dcae"/>
<rect x="440.23" y="553.15" width="0.74" height="32.45" fill="#7f998c"/>
<rect x="440.97" y="550.66" width="0.55" height="34.94" fill="#e2dcae"/>
<rect x="441.5" y="554.4" width="0.74" height="31.2" fill="#7f998c"/>
<rect x="442.24" y="551.9" width="0.55" height="33.7" fill="#e2dcae"/>
<rect x="442.77" y="555.96" width="0.74" height="29.64" fill="#7f998c"/>
<rect x="443.51" y="553.15" width="0.55" height="32.45" fill="#e2dcae"/>
  <!-- left axes -->
  <line x1="64.75" x2="64.75" y1="397" y2="586.9" stroke="#2c2c2c" stroke-width="1.6"/>
  <line x1="63.9" x2="472.5" y1="586" y2="586" stroke="#2c2c2c" stroke-width="1.8"/>
<line x1="62.3" x2="65" y1="585.6" y2="585.6" stroke="#2c2c2c" stroke-width="1"/>
<text x="55" y="587.9" text-anchor="end" class="ax" style="font-size:9.7px">0</text>
<line x1="62.3" x2="65" y1="554.4" y2="554.4" stroke="#2c2c2c" stroke-width="1"/>
<text x="55" y="556.7" text-anchor="end" class="ax" style="font-size:9.7px">100</text>
<line x1="62.3" x2="65" y1="523.2" y2="523.2" stroke="#2c2c2c" stroke-width="1"/>
<text x="55" y="525.5" text-anchor="end" class="ax" style="font-size:9.7px">200</text>
<line x1="62.3" x2="65" y1="492" y2="492" stroke="#2c2c2c" stroke-width="1"/>
<text x="55" y="494.3" text-anchor="end" class="ax" style="font-size:9.7px">300</text>
<line x1="62.3" x2="65" y1="460.8" y2="460.8" stroke="#2c2c2c" stroke-width="1"/>
<text x="55" y="463.1" text-anchor="end" class="ax" style="font-size:9.7px">400</text>
<line x1="62.3" x2="65" y1="429.6" y2="429.6" stroke="#2c2c2c" stroke-width="1"/>
<text x="55" y="431.9" text-anchor="end" class="ax" style="font-size:9.7px">500</text>
<line x1="62.3" x2="65" y1="398.4" y2="398.4" stroke="#2c2c2c" stroke-width="1"/>
<text x="55" y="400.7" text-anchor="end" class="ax" style="font-size:9.7px">600</text>
<line x1="65" x2="65" y1="586" y2="588.6" stroke="#2c2c2c" stroke-width="1.2"/>
<text transform="translate(69.5,596.5) rotate(-45)" text-anchor="end" class="ax">2019/12/31</text>
<line x1="104.44" x2="104.44" y1="586" y2="588.6" stroke="#2c2c2c" stroke-width="1.2"/>
<text transform="translate(108.94,596.5) rotate(-45)" text-anchor="end" class="ax">2020/1/31</text>
<line x1="141.33" x2="141.33" y1="586" y2="588.6" stroke="#2c2c2c" stroke-width="1.2"/>
<text transform="translate(145.83,596.5) rotate(-45)" text-anchor="end" class="ax">2020/2/29</text>
<line x1="180.76" x2="180.76" y1="586" y2="588.6" stroke="#2c2c2c" stroke-width="1.2"/>
<text transform="translate(185.26,596.5) rotate(-45)" text-anchor="end" class="ax">2020/3/31</text>
<line x1="218.93" x2="218.93" y1="586" y2="588.6" stroke="#2c2c2c" stroke-width="1.2"/>
<text transform="translate(223.43,596.5) rotate(-45)" text-anchor="end" class="ax">2020/4/30</text>
<line x1="258.36" x2="258.36" y1="586" y2="588.6" stroke="#2c2c2c" stroke-width="1.2"/>
<text transform="translate(262.86,596.5) rotate(-45)" text-anchor="end" class="ax">2020/5/31</text>
<line x1="296.53" x2="296.53" y1="586" y2="588.6" stroke="#2c2c2c" stroke-width="1.2"/>
<text transform="translate(301.03,596.5) rotate(-45)" text-anchor="end" class="ax">2020/6/30</text>
<line x1="335.96" x2="335.96" y1="586" y2="588.6" stroke="#2c2c2c" stroke-width="1.2"/>
<text transform="translate(340.46,596.5) rotate(-45)" text-anchor="end" class="ax">2020/7/31</text>
<line x1="375.4" x2="375.4" y1="586" y2="588.6" stroke="#2c2c2c" stroke-width="1.2"/>
<text transform="translate(379.9,596.5) rotate(-45)" text-anchor="end" class="ax">2020/8/31</text>
<line x1="413.56" x2="413.56" y1="586" y2="588.6" stroke="#2c2c2c" stroke-width="1.2"/>
<text transform="translate(418.06,596.5) rotate(-45)" text-anchor="end" class="ax">2020/9/30</text>
<line x1="453" x2="453" y1="586" y2="588.6" stroke="#2c2c2c" stroke-width="1.2"/>
<text transform="translate(457.5,596.5) rotate(-45)" text-anchor="end" class="ax">2020/10/31</text>

  <!-- right legend -->
<rect x="592.7" y="381.5" width="4.6" height="4.6" fill="#bfbbd6" opacity="0.8"/>
<text x="601" y="387.6" class="kai lg2">第五十八周</text>
<rect x="683.7" y="381.5" width="4.6" height="4.6" fill="#b3d9e4" opacity="0.8"/>
<text x="692" y="387.6" class="kai lg2">第五十九周</text>
<rect x="775.2" y="381.5" width="4.6" height="4.6" fill="#f9ccb0" opacity="0.8"/>
<text x="783.5" y="387.6" class="kai lg2">第六十周</text>
<rect x="592.7" y="393" width="4.6" height="4.6" fill="#d3d9ec" opacity="0.8"/>
<text x="601" y="399.1" class="kai lg2">第六十一周</text>
<rect x="683.7" y="393" width="4.6" height="4.6" fill="#2f7181" opacity="0.8"/>
<text x="692" y="399.1" class="kai lg2">第六十二周</text>
<rect x="775.2" y="393" width="4.6" height="4.6" fill="#f3dfdb" opacity="0.8"/>
<text x="783.5" y="399.1" class="kai lg2">第六十三周</text>
<rect x="592.7" y="404.5" width="4.6" height="4.6" fill="#dde5d0" opacity="0.8"/>
<text x="601" y="410.6" class="kai lg2">第六十四周</text>
<rect x="683.7" y="404.5" width="4.6" height="4.6" fill="#cfc8de" opacity="0.8"/>
<text x="692" y="410.6" class="kai lg2">第六十五周</text>
  <!-- right bars -->
<rect x="577.8" y="488.8" width="8.95" height="38.85" fill="#bfbbd6"/>
<rect x="586.75" y="488.8" width="8.95" height="81.11" fill="#b3d9e4"/>
<rect x="595.7" y="473.66" width="8.95" height="15.14" fill="#f9ccb0"/>
<rect x="604.65" y="488.8" width="8.95" height="48.12" fill="#d3d9ec"/>
<rect x="613.6" y="488.28" width="8.95" height="0.53" fill="#2f7181"/>
<rect x="622.55" y="488.8" width="8.95" height="0.44" fill="#f3dfdb"/>
<rect x="631.5" y="488.8" width="8.95" height="32.73" fill="#dde5d0"/>
<rect x="640.45" y="488.8" width="8.95" height="57.56" fill="#cfc8de"/>
<text x="613.85" y="612.3" text-anchor="middle" class="kai cat">科创板净买入额</text>
<rect x="663.9" y="488.8" width="8.95" height="0.26" fill="#bfbbd6"/>
<rect x="672.85" y="488.8" width="8.95" height="22.75" fill="#b3d9e4"/>
<rect x="681.8" y="477.16" width="8.95" height="11.64" fill="#f9ccb0"/>
<rect x="690.75" y="481.54" width="8.95" height="7.26" fill="#d3d9ec"/>
<rect x="699.7" y="488.8" width="8.95" height="4.11" fill="#2f7181"/>
<rect x="708.65" y="488.45" width="8.95" height="0.35" fill="#f3dfdb"/>
<rect x="717.6" y="488.8" width="8.95" height="11.64" fill="#dde5d0"/>
<rect x="726.55" y="488.8" width="8.95" height="20.18" fill="#cfc8de"/>
<text x="699.95" y="612.3" text-anchor="middle" class="kai cat">机构</text>
<rect x="750" y="488.8" width="8.95" height="20.39" fill="#bfbbd6"/>
<rect x="758.95" y="488.8" width="8.95" height="40.86" fill="#b3d9e4"/>
<rect x="767.9" y="488.8" width="8.95" height="0.44" fill="#f9ccb0"/>
<rect x="776.85" y="488.8" width="8.95" height="37.1" fill="#d3d9ec"/>
<rect x="785.8" y="488.8" width="8.95" height="7.88" fill="#2f7181"/>
<rect x="794.75" y="488.8" width="8.95" height="0.44" fill="#f3dfdb"/>
<rect x="803.7" y="488.8" width="8.95" height="27.74" fill="#dde5d0"/>
<rect x="812.65" y="488.8" width="8.95" height="33.91" fill="#cfc8de"/>
<text x="786.05" y="612.3" text-anchor="middle" class="kai cat">大户</text>
<rect x="836.1" y="476.55" width="8.95" height="12.25" fill="#bfbbd6"/>
<rect x="845.05" y="477.69" width="8.95" height="11.11" fill="#b3d9e4"/>
<rect x="854" y="485.04" width="8.95" height="3.76" fill="#f9ccb0"/>
<rect x="862.95" y="488.1" width="8.95" height="0.7" fill="#d3d9ec"/>
<rect x="871.9" y="483.81" width="8.95" height="4.99" fill="#2f7181"/>
<rect x="880.85" y="488.36" width="8.95" height="0.44" fill="#f3dfdb"/>
<rect x="889.8" y="468.41" width="8.95" height="20.39" fill="#dde5d0"/>
<rect x="898.75" y="459.02" width="8.95" height="29.78" fill="#cfc8de"/>
<text x="872.15" y="612.3" text-anchor="middle" class="kai cat">中户</text>
<rect x="922.2" y="480.93" width="8.95" height="7.88" fill="#bfbbd6"/>
<rect x="931.15" y="436.3" width="8.95" height="52.5" fill="#b3d9e4"/>
<rect x="940.1" y="488.8" width="8.95" height="16.62" fill="#f9ccb0"/>
<rect x="949.05" y="461.06" width="8.95" height="27.74" fill="#d3d9ec"/>
<rect x="958" y="482.06" width="8.95" height="6.74" fill="#2f7181"/>
<rect x="966.95" y="487.93" width="8.95" height="0.88" fill="#f3dfdb"/>
<rect x="975.9" y="470.69" width="8.95" height="18.11" fill="#dde5d0"/>
<rect x="984.85" y="464.48" width="8.95" height="24.32" fill="#cfc8de"/>
<text x="958.25" y="612.3" text-anchor="middle" class="kai cat">散户</text>
  <!-- right axes -->
  <line x1="570" x2="570" y1="418.3" y2="594.3" stroke="#2c2c2c" stroke-width="1.6"/>
  <line x1="569.2" x2="1001.5" y1="488.9" y2="488.9" stroke="#3a3a3a" stroke-width="1.6"/>
<line x1="566" x2="570" y1="418.8" y2="418.8" stroke="#333" stroke-width="1"/>
<text x="561" y="422.7" text-anchor="end" class="ax2">80</text>
<line x1="566" x2="570" y1="436.3" y2="436.3" stroke="#333" stroke-width="1"/>
<text x="561" y="440.2" text-anchor="end" class="ax2">60</text>
<line x1="566" x2="570" y1="453.8" y2="453.8" stroke="#333" stroke-width="1"/>
<text x="561" y="457.7" text-anchor="end" class="ax2">40</text>
<line x1="566" x2="570" y1="471.3" y2="471.3" stroke="#333" stroke-width="1"/>
<text x="561" y="475.2" text-anchor="end" class="ax2">20</text>
<line x1="566" x2="570" y1="488.8" y2="488.8" stroke="#333" stroke-width="1"/>
<text x="561" y="492.7" text-anchor="end" class="ax2">0</text>
<line x1="566" x2="570" y1="506.3" y2="506.3" stroke="#333" stroke-width="1"/>
<text x="561" y="510.2" text-anchor="end" class="ax2">-20</text>
<line x1="566" x2="570" y1="523.8" y2="523.8" stroke="#333" stroke-width="1"/>
<text x="561" y="527.7" text-anchor="end" class="ax2">-40</text>
<line x1="566" x2="570" y1="541.3" y2="541.3" stroke="#333" stroke-width="1"/>
<text x="561" y="545.2" text-anchor="end" class="ax2">-60</text>
<line x1="566" x2="570" y1="558.8" y2="558.8" stroke="#333" stroke-width="1"/>
<text x="561" y="562.7" text-anchor="end" class="ax2">-80</text>
<line x1="566" x2="570" y1="576.3" y2="576.3" stroke="#333" stroke-width="1"/>
<text x="561" y="580.2" text-anchor="end" class="ax2">-100</text>
<line x1="566" x2="570" y1="593.8" y2="593.8" stroke="#333" stroke-width="1"/>
<text x="561" y="597.7" text-anchor="end" class="ax2">-120</text>
<line x1="656.4" x2="656.4" y1="488.8" y2="492.5" stroke="#333" stroke-width="1"/>
<line x1="742.5" x2="742.5" y1="488.8" y2="492.5" stroke="#333" stroke-width="1"/>
<line x1="828.6" x2="828.6" y1="488.8" y2="492.5" stroke="#333" stroke-width="1"/>
<line x1="914.7" x2="914.7" y1="488.8" y2="492.5" stroke="#333" stroke-width="1"/>
<line x1="1000.8" x2="1000.8" y1="488.8" y2="492.5" stroke="#333" stroke-width="1"/>
  <text x="645.5" y="561.5" text-anchor="middle" class="dl">-65.78</text>
  <text x="731.5" y="524.5" text-anchor="middle" class="dl">-23.06</text>
  <text x="818.3" y="538.2" text-anchor="middle" class="dl">-38.76</text>
  <text x="903.7" y="452.2" text-anchor="middle" class="dl">34.03</text>
  <text x="989.5" y="458" text-anchor="middle" class="dl">27.79</text>
</svg>

<!-- sources -->
<div class="srcline abs" style="left:12px;top:646.5px;width:499px;"></div>
<div class="src abs" style="left:19px;top:653.5px;">数据来源：Wind，广发证券发展研究中心</div>
<div class="srcline abs" style="left:533.5px;top:647px;width:490.5px;"></div>
<div class="src abs" id="f1" style="left:540px;top:651px;">数据来源：Wind，广发证券发展研究中心（统计区间为2020年8月31日至10月23日，</div>
<div class="src abs" id="f2" style="left:540px;top:664px;">Wind按挂单金额定义投资者类型，其中小于4万元为<q>“</q>散户<q>”</q>，4至20万元为<q>“</q>大户<q>”</q>，</div>
<div class="src abs" id="f3" style="left:540px;top:677.9px;">20至100万元为<q>“</q>主力<q>”</q>，大于100万元为<q>“</q>机构<q>”</q>，下同）</div>

<div id="disc" class="abs">请务必阅读末页的免责声明</div>
</body>
</html>
